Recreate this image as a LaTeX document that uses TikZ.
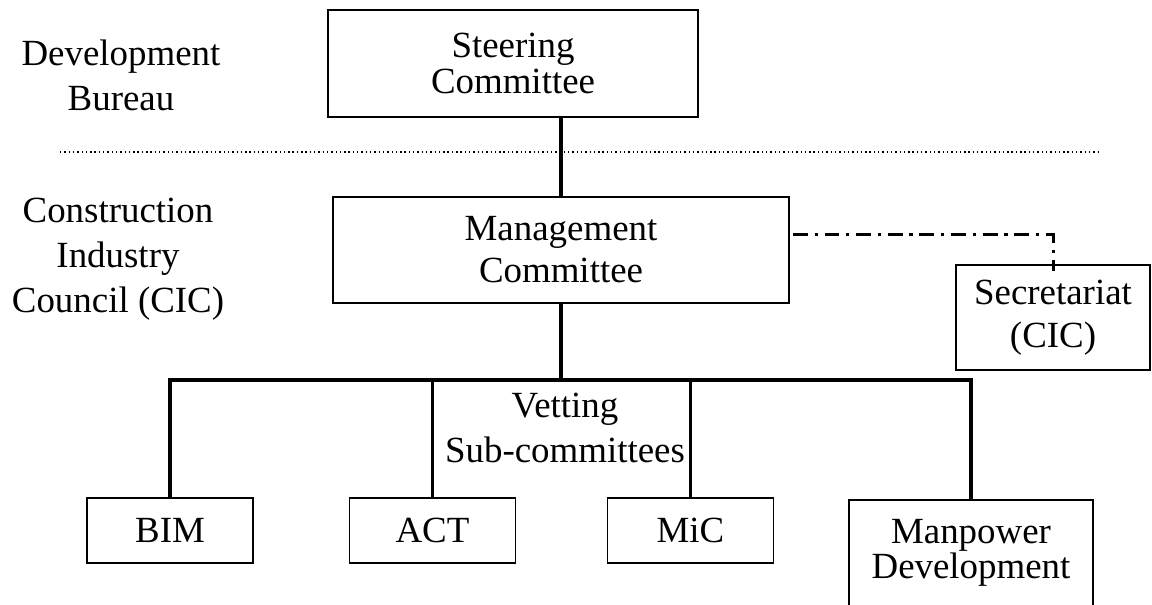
\documentclass[tikz,border=0pt]{standalone}
\usepackage{fontspec}
\setmainfont{Liberation Serif}
\usepackage{tikz}
\usetikzlibrary{positioning, calc}

\begin{document}
\begin{tikzpicture}[
  orgbox/.style={draw, line width=1pt, align=center, inner sep=0pt, font=\fontsize{21}{25.5}\selectfont},
  tag/.style={align=center, inner sep=0pt, font=\fontsize{21}{25.5}\selectfont},
  conn/.style={line width=1.9pt},
  dashdotline/.style={line width=1.7pt, dash pattern=on 8.5pt off 3.8pt on 1.9pt off 3.8pt},
  tierline/.style={line width=0.8pt, dash pattern=on 0.8pt off 1.65pt}
]
  \useasboundingbox (0,0) rectangle (23.04,12.1);
  \clip (0,0) rectangle (23.04,12.1);

  \node[orgbox, minimum width=7.4cm, minimum height=2.14cm, font=\fontsize{21}{21}\selectfont] (steer) at (10.26,10.83) {Steering\\Committee};
  \node[orgbox, minimum width=9.12cm, minimum height=2.12cm, font=\fontsize{21}{23.8}\selectfont] (mgmt) at (11.22,7.1) {Management\\Committee};
  \node[orgbox, minimum width=3.88cm, minimum height=2.1cm, font=\fontsize{21}{24.4}\selectfont] (sec) at (21.06,5.75) {Secretariat\\(CIC)};
  \node[orgbox, minimum width=3.32cm, minimum height=1.3cm] (bim) at (3.4,1.49) {BIM};
  \node[orgbox, minimum width=3.32cm, minimum height=1.3cm] (act) at (8.65,1.49) {ACT};
  \node[orgbox, minimum width=3.32cm, minimum height=1.3cm] (mic) at (13.81,1.49) {MiC};
  \node[orgbox, anchor=north, minimum width=4.88cm, inner ysep=11pt, font=\fontsize{21}{18.7}\selectfont] (mpd) at (19.42,2.12) {Manpower\\Development\rule[-40pt]{0pt}{0pt}};

  \node[tag] (devb) at (2.42,10.6) {Development\\Bureau};
  \node[tag] (cic) at (2.36,6.92) {Construction\\Industry\\Council (CIC)};
  \node[tag] (vet) at (11.3,3.54) {Vetting\\Sub-committees};

  \coordinate (bus) at (0,4.5);
  \coordinate (ddstart) at ([xshift=0.06cm, yshift=0.3cm]mgmt.east);

  \draw[tierline] (1.2,9.06) -- (21.96,9.06);
  \draw[conn] (mgmt.north) -- (mgmt.north |- steer.south);
  \draw[conn] (mgmt.south) -- (mgmt.south |- bus);
  \draw[conn] (bim.north) |- (mpd.north |- bus) -- (mpd.north);
  \draw[conn] (act.north) -- (act.north |- bus);
  \draw[conn] (mic.north) -- (mic.north |- bus);
  \draw[dashdotline] (ddstart) -| ([yshift=-0.14cm]sec.north);
\end{tikzpicture}
\end{document}
